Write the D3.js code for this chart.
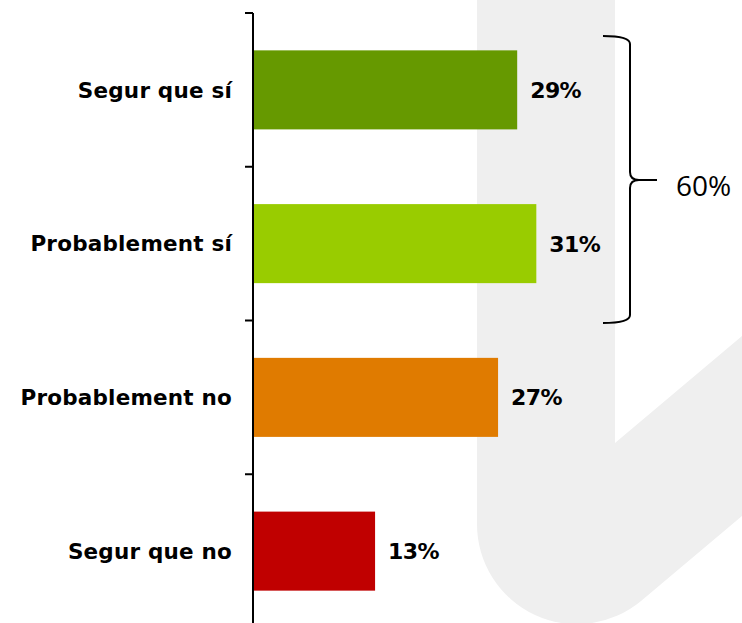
<!DOCTYPE html>
<html>
<head>
<meta charset="utf-8">
<script src="https://cdn.jsdelivr.net/npm/d3@7"></script>
<style>
  body { margin: 0; background: #fff; }
  svg { display: block; }
</style>
</head>
<body>
<svg id="chart"></svg>
<script>
// data
const categories = ["Segur que sí", "Probablement sí", "Probablement no", "Segur que no"];
const values = [29.0, 31.1, 26.9, 13.4]; // bar lengths
const valueLabels = ["29%", "31%", "27%", "13%"];
const barColors = ["#669900", "#99cc00", "#e07b00", "#c00000"];
const groupLabel = "60%"; // brace over the first two answers

const width = 742;
const height = 623;

const svg = d3.select("#chart")
    .attr("width", width)
    .attr("height", height);

// light grey logo shape in the background
svg.append("path")
    .attr("d", "M477,0 V524 A100,100 0 0,0 641,601 L742,516 V336 L615,443 V0 Z")
    .attr("fill", "#efefef");

const axisX = 253;

const x = d3.scaleLinear()
    .domain([0, 50])
    .range([axisX, axisX + 455.5]);

const y = d3.scaleBand()
    .domain(categories)
    .range([13, 628])
    .paddingInner(0.486)
    .paddingOuter(0.243);

// bars
svg.selectAll(".bar")
    .data(categories)
    .join("rect")
    .attr("class", "bar")
    .attr("x", x(0))
    .attr("y", d => y(d))
    .attr("width", (d, i) => x(values[i]) - x(0))
    .attr("height", y.bandwidth())
    .attr("fill", (d, i) => barColors[i]);

// vertical axis with ticks between categories
const axis = svg.append("g");
axis.append("line")
    .attr("x1", axisX).attr("x2", axisX)
    .attr("y1", y.range()[0]).attr("y2", height)
    .attr("stroke", "#000")
    .attr("stroke-width", 2);

const tickYs = categories.map(d => y(d) - y.step() * y.paddingOuter());
axis.selectAll(".tick")
    .data(tickYs)
    .join("line")
    .attr("x1", axisX - 8).attr("x2", axisX)
    .attr("y1", d => d).attr("y2", d => d)
    .attr("stroke", "#000")
    .attr("stroke-width", 2);

// category labels
svg.selectAll(".cat")
    .data(categories)
    .join("text")
    .attr("class", "cat")
    .attr("x", axisX - 21)
    .attr("y", d => y(d) + y.bandwidth() / 2)
    .attr("dy", "0.36em")
    .attr("text-anchor", "end")
    .style("font-family", "'DejaVu Sans', sans-serif")
    .style("font-weight", "bold")
    .style("font-size", "21.5px")
    .style("letter-spacing", "0.2px")
    .style("fill", "#000")
    .text(d => d);

// value labels
svg.selectAll(".val")
    .data(categories)
    .join("text")
    .attr("class", "val")
    .attr("x", (d, i) => x(values[i]) + 13)
    .attr("y", d => y(d) + y.bandwidth() / 2)
    .attr("dy", "0.36em")
    .style("font-family", "'DejaVu Sans', sans-serif")
    .style("font-weight", "bold")
    .style("font-size", "22px")
    .style("letter-spacing", "-0.6px")
    .style("fill", "#000")
    .text((d, i) => valueLabels[i]);

// brace grouping the two positive answers
const braceTop = y.range()[0] + 23;
const braceBottom = tickYs[2] + 2.5;
const braceMid = (braceTop + braceBottom) / 2 + 0.5;
const bx = 630;
const brace = `M603,${braceTop} Q${bx},${braceTop} ${bx},${braceTop + 8} V${braceMid - 8} Q${bx},${braceMid} ${bx + 9},${braceMid} H657` +
    ` M${bx + 9},${braceMid} Q${bx},${braceMid} ${bx},${braceMid + 8} V${braceBottom - 8} Q${bx},${braceBottom} 603,${braceBottom}`;
svg.append("path")
    .attr("d", brace)
    .attr("fill", "none")
    .attr("stroke", "#000")
    .attr("stroke-width", 2);

svg.append("text")
    .attr("x", 676)
    .attr("y", braceMid + 6)
    .attr("dy", "0.36em")
    .style("font-family", "'Open Sans', sans-serif")
    .style("font-size", "28px")
    .style("fill", "#000")
    .text(groupLabel);
</script>
</body>
</html>
